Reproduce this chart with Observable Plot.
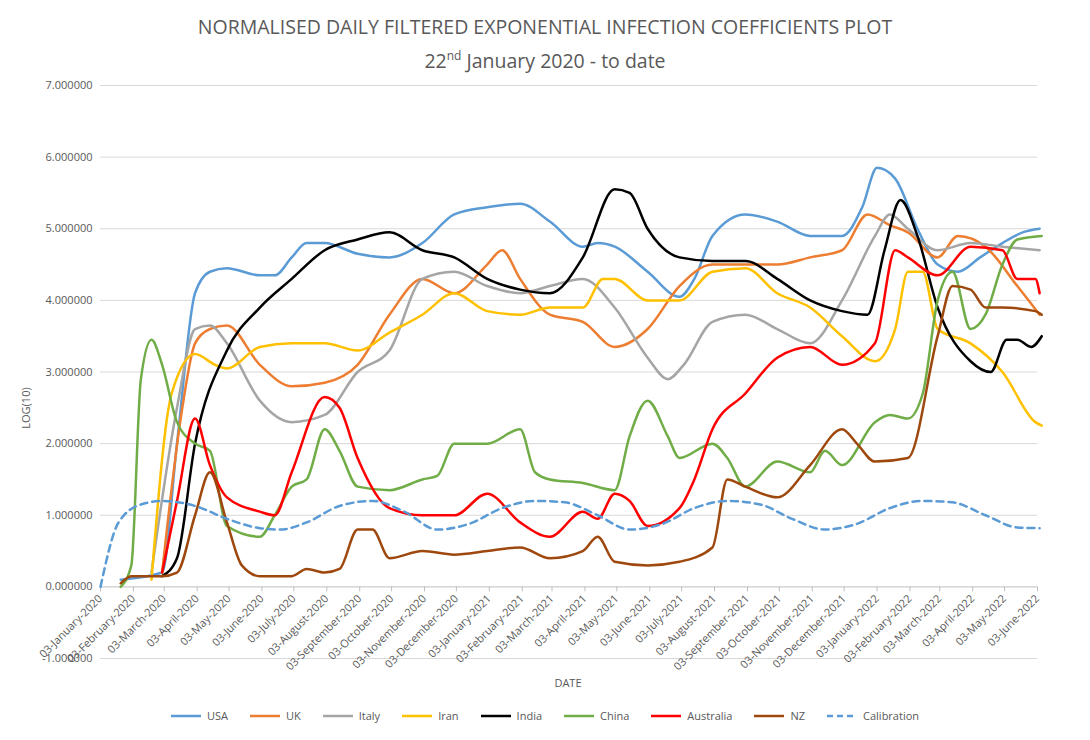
<!DOCTYPE html>
<html><head><meta charset="utf-8">
<script src="https://cdn.jsdelivr.net/npm/d3@7"></script>
<script src="https://cdn.jsdelivr.net/npm/@observablehq/plot@0.6"></script>
<style>
body{margin:0;background:#fff;font-family:"Open Sans",sans-serif;width:1090px;height:740px;overflow:hidden}
#title{position:absolute;top:12px;left:0;width:1090px;text-align:center;color:#595959;font-size:19.5px;line-height:29px}
#chart{position:absolute;top:75px;left:0}
#legend{position:absolute;top:708px;left:0;width:1090px;display:flex;justify-content:center;gap:22px;font-size:11px;color:#595959}
#legend span{display:flex;align-items:center;gap:6px}
</style></head><body>
<div id="title">NORMALISED DAILY FILTERED EXPONENTIAL INFECTION COEFFICIENTS PLOT<br>22<sup style="font-size:12px">nd</sup> January 2020 - to date</div>
<div id="chart"></div>
<div id="legend"></div>
<script>
const usa=[["2020-01-22",0.1],["2020-03-01",0.2],["2020-03-15",2.0],["2020-04-01",4.1],["2020-04-15",4.4],["2020-05-01",4.45],["2020-06-01",4.35],["2020-06-15",4.35],["2020-07-01",4.6],["2020-07-15",4.8],["2020-08-01",4.8],["2020-09-01",4.65],["2020-10-01",4.6],["2020-11-01",4.8],["2020-12-01",5.2],["2021-01-01",5.3],["2021-02-01",5.35],["2021-03-01",5.1],["2021-04-01",4.75],["2021-04-15",4.8],["2021-05-01",4.75],["2021-06-01",4.4],["2021-07-01",4.05],["2021-07-15",4.3],["2021-08-01",4.9],["2021-09-01",5.2],["2021-10-01",5.1],["2021-11-01",4.9],["2021-12-01",4.9],["2021-12-20",5.3],["2022-01-03",5.85],["2022-01-20",5.7],["2022-02-10",5.0],["2022-03-01",4.5],["2022-03-20",4.4],["2022-04-10",4.6],["2022-05-01",4.8],["2022-05-20",4.95],["2022-06-05",5.0]];
const uk=[["2020-03-01",0.2],["2020-03-20",2.5],["2020-04-01",3.4],["2020-04-15",3.6],["2020-05-01",3.65],["2020-06-01",3.1],["2020-07-01",2.8],["2020-08-01",2.85],["2020-09-01",3.1],["2020-10-01",3.8],["2020-11-01",4.3],["2020-12-01",4.1],["2021-01-01",4.5],["2021-01-15",4.7],["2021-02-01",4.3],["2021-03-01",3.8],["2021-04-01",3.7],["2021-05-01",3.35],["2021-06-01",3.6],["2021-07-01",4.2],["2021-08-01",4.5],["2021-09-01",4.5],["2021-10-01",4.5],["2021-11-01",4.6],["2021-12-01",4.7],["2021-12-25",5.2],["2022-01-15",5.05],["2022-02-01",4.95],["2022-03-01",4.6],["2022-03-20",4.9],["2022-04-15",4.75],["2022-05-15",4.2],["2022-06-05",3.8]];
const italy=[["2020-02-20",0.2],["2020-03-15",2.5],["2020-04-01",3.6],["2020-04-15",3.65],["2020-05-01",3.4],["2020-06-01",2.6],["2020-07-01",2.3],["2020-08-01",2.4],["2020-09-01",3.0],["2020-10-01",3.3],["2020-11-01",4.3],["2020-12-01",4.4],["2021-01-01",4.2],["2021-02-01",4.1],["2021-03-01",4.2],["2021-04-01",4.3],["2021-05-01",3.9],["2021-06-01",3.2],["2021-06-20",2.9],["2021-07-05",3.1],["2021-08-01",3.7],["2021-09-01",3.8],["2021-10-01",3.6],["2021-11-01",3.4],["2021-12-01",4.0],["2022-01-01",4.9],["2022-01-15",5.2],["2022-02-01",5.0],["2022-03-01",4.7],["2022-04-01",4.8],["2022-05-01",4.75],["2022-06-05",4.7]];
const iran=[["2020-02-20",0.1],["2020-03-10",2.7],["2020-04-01",3.25],["2020-04-20",3.1],["2020-05-01",3.05],["2020-06-01",3.35],["2020-07-01",3.4],["2020-08-01",3.4],["2020-09-01",3.3],["2020-10-01",3.55],["2020-11-01",3.8],["2020-12-01",4.1],["2021-01-01",3.85],["2021-02-01",3.8],["2021-03-01",3.9],["2021-04-01",3.9],["2021-04-20",4.3],["2021-05-01",4.3],["2021-06-01",4.0],["2021-07-01",4.0],["2021-08-01",4.4],["2021-09-01",4.45],["2021-10-01",4.1],["2021-11-01",3.9],["2021-12-01",3.5],["2022-01-01",3.15],["2022-01-20",3.6],["2022-02-01",4.4],["2022-02-15",4.4],["2022-03-01",3.6],["2022-04-01",3.4],["2022-05-01",3.0],["2022-06-01",2.3],["2022-06-07",2.25]];
const india=[["2020-03-01",0.15],["2020-03-15",0.4],["2020-04-01",2.0],["2020-05-01",3.3],["2020-06-01",3.9],["2020-07-01",4.3],["2020-08-01",4.7],["2020-09-01",4.85],["2020-10-01",4.95],["2020-11-01",4.7],["2020-12-01",4.6],["2021-01-01",4.3],["2021-02-01",4.15],["2021-03-01",4.1],["2021-04-01",4.6],["2021-05-01",5.55],["2021-05-15",5.5],["2021-06-01",5.0],["2021-07-01",4.6],["2021-08-01",4.55],["2021-09-01",4.55],["2021-10-01",4.3],["2021-11-01",4.0],["2021-12-01",3.85],["2021-12-25",3.8],["2022-01-10",4.7],["2022-01-25",5.4],["2022-02-10",4.9],["2022-03-01",3.9],["2022-04-01",3.15],["2022-04-20",3.0],["2022-05-05",3.45],["2022-05-15",3.45],["2022-05-28",3.35],["2022-06-07",3.5]];
const china=[["2020-01-22",0.0],["2020-02-01",0.3],["2020-02-10",2.9],["2020-02-20",3.45],["2020-03-01",3.1],["2020-03-15",2.3],["2020-04-01",2.0],["2020-04-15",1.9],["2020-05-01",0.85],["2020-06-01",0.7],["2020-06-15",1.0],["2020-07-01",1.4],["2020-07-15",1.5],["2020-08-01",2.2],["2020-08-15",1.9],["2020-09-01",1.4],["2020-10-01",1.35],["2020-11-01",1.5],["2020-11-15",1.55],["2020-12-01",2.0],["2021-01-01",2.0],["2021-02-01",2.2],["2021-02-15",1.6],["2021-03-01",1.5],["2021-04-01",1.45],["2021-05-01",1.35],["2021-05-15",2.1],["2021-06-01",2.6],["2021-06-20",2.1],["2021-07-01",1.8],["2021-08-01",2.0],["2021-08-15",1.8],["2021-09-01",1.4],["2021-10-01",1.75],["2021-11-01",1.6],["2021-11-15",1.9],["2021-12-01",1.7],["2022-01-01",2.3],["2022-01-15",2.4],["2022-02-01",2.35],["2022-02-15",2.7],["2022-03-01",4.0],["2022-03-15",4.4],["2022-04-01",3.6],["2022-04-15",3.8],["2022-05-01",4.5],["2022-05-15",4.85],["2022-06-07",4.9]];
const australia=[["2020-03-01",0.2],["2020-03-15",1.2],["2020-04-01",2.35],["2020-04-15",1.7],["2020-05-01",1.25],["2020-06-01",1.05],["2020-06-15",1.0],["2020-07-01",1.6],["2020-08-01",2.65],["2020-08-15",2.5],["2020-09-01",1.8],["2020-10-01",1.1],["2020-11-01",1.0],["2020-12-01",1.0],["2021-01-01",1.3],["2021-02-01",0.9],["2021-03-01",0.7],["2021-04-01",1.05],["2021-04-15",0.95],["2021-05-01",1.3],["2021-05-15",1.2],["2021-06-01",0.85],["2021-07-01",1.1],["2021-07-15",1.5],["2021-08-01",2.2],["2021-09-01",2.7],["2021-10-01",3.2],["2021-11-01",3.35],["2021-12-01",3.1],["2022-01-01",3.4],["2022-01-20",4.7],["2022-02-01",4.6],["2022-03-01",4.35],["2022-04-01",4.75],["2022-05-01",4.7],["2022-05-15",4.3],["2022-06-01",4.3],["2022-06-05",4.1]];
const nz=[["2020-01-22",0.05],["2020-02-01",0.15],["2020-03-01",0.15],["2020-03-15",0.2],["2020-04-01",1.0],["2020-04-15",1.6],["2020-05-01",0.9],["2020-05-15",0.3],["2020-06-01",0.15],["2020-07-01",0.15],["2020-07-15",0.25],["2020-08-01",0.2],["2020-08-15",0.25],["2020-09-01",0.8],["2020-09-15",0.8],["2020-10-01",0.4],["2020-11-01",0.5],["2020-12-01",0.45],["2021-01-01",0.5],["2021-02-01",0.55],["2021-03-01",0.4],["2021-04-01",0.5],["2021-04-15",0.7],["2021-05-01",0.35],["2021-06-01",0.3],["2021-07-01",0.35],["2021-08-01",0.55],["2021-08-15",1.5],["2021-09-01",1.4],["2021-10-01",1.25],["2021-11-01",1.7],["2021-12-01",2.2],["2021-12-15",2.0],["2022-01-01",1.75],["2022-02-01",1.8],["2022-03-01",3.5],["2022-03-15",4.2],["2022-04-01",4.15],["2022-04-15",3.9],["2022-05-01",3.9],["2022-06-01",3.85],["2022-06-07",3.8]];
const calibration=[["2020-01-03",0.0],["2020-01-20",0.9],["2020-02-10",1.15],["2020-03-01",1.2],["2020-04-01",1.13],["2020-05-01",0.95],["2020-06-01",0.82],["2020-06-20",0.8],["2020-07-15",0.9],["2020-08-15",1.13],["2020-09-15",1.2],["2020-10-15",1.05],["2020-11-15",0.8],["2020-12-15",0.88],["2021-01-15",1.1],["2021-02-15",1.2],["2021-03-15",1.18],["2021-04-15",1.0],["2021-05-15",0.8],["2021-06-15",0.88],["2021-07-15",1.1],["2021-08-15",1.2],["2021-09-15",1.15],["2021-10-15",0.95],["2021-11-15",0.8],["2021-12-15",0.88],["2022-01-15",1.1],["2022-02-15",1.2],["2022-03-15",1.18],["2022-04-15",1.0],["2022-05-15",0.83],["2022-06-05",0.82]];
const seriesNames=["USA","UK","Italy","Iran","India","China","Australia","NZ","Calibration"];
const seriesColors=["#5b9bd5","#ed7d31","#a5a5a5","#ffc000","#000000","#70ad47","#ff0000","#9e480e","#5b9bd5"];
const seriesData=[usa,uk,italy,iran,india,china,australia,nz,calibration];
const yTicks=[-1,0,1,2,3,4,5,6,7];

const ticks=d3.utcMonth.range(new Date("2020-01-01"),new Date("2022-06-02")).map(d=>new Date(Date.UTC(d.getUTCFullYear(),d.getUTCMonth(),3)));
const fmt=d=>"03-"+d3.utcFormat("%B-%Y")(d);
const rows=[];
seriesData.forEach((s,i)=>s.forEach(([d,v])=>rows.push({s:seriesNames[i],date:new Date(d),v})));

const marks=[
  Plot.ruleY(yTicks.filter(t=>t!==0),{stroke:"#d9d9d9"}),
  Plot.ruleY([0],{stroke:"#bfbfbf"}),
  Plot.ruleX(ticks,{x:d=>d,y1:0,y2:-0.07,stroke:"#bfbfbf"}),
  Plot.text(yTicks,{x:new Date("2020-01-03"),y:d=>d,text:d=>d.toFixed(6),textAnchor:"end",dx:-8,fill:"#595959",fontSize:11}),
  Plot.text(ticks,{x:d=>d,y:0,text:fmt,rotate:-45,textAnchor:"end",dy:10,fill:"#595959",fontSize:11}),
];
seriesNames.forEach((n,i)=>{
  marks.push(Plot.line(rows.filter(r=>r.s===n),{x:"date",y:"v",stroke:seriesColors[i],strokeWidth:2.5,strokeDasharray:n==="Calibration"?"7,5":null,curve:"monotone-x"}));
});
const chart=Plot.plot({
  width:1090,height:625,marginLeft:100,marginRight:53,marginTop:10,marginBottom:42,
  x:{type:"utc",domain:[new Date("2020-01-03"),new Date("2022-06-03")],axis:null},
  y:{domain:[-1,7],axis:null},
  style:{fontFamily:"Open Sans, sans-serif",overflow:"visible"},
  marks
});
document.getElementById("chart").append(chart);
const svg=d3.select(chart);
svg.append("text").attr("x",30).attr("y",333).attr("transform","rotate(-90,30,333)").attr("text-anchor","middle").attr("fill","#595959").attr("font-size",11).text("LOG(10)");
svg.append("text").attr("x",568).attr("y",612).attr("text-anchor","middle").attr("fill","#595959").attr("font-size",11).text("DATE");
const lg=document.getElementById("legend");
seriesNames.forEach((n,i)=>{
  const sp=document.createElement("span");
  sp.innerHTML=`<svg width="30" height="6"><line x1="0" y1="3" x2="30" y2="3" stroke="${seriesColors[i]}" stroke-width="2.5" ${n==="Calibration"?'stroke-dasharray="6,4"':''}/></svg>${n}`;
  lg.append(sp);
});
</script></body></html>
